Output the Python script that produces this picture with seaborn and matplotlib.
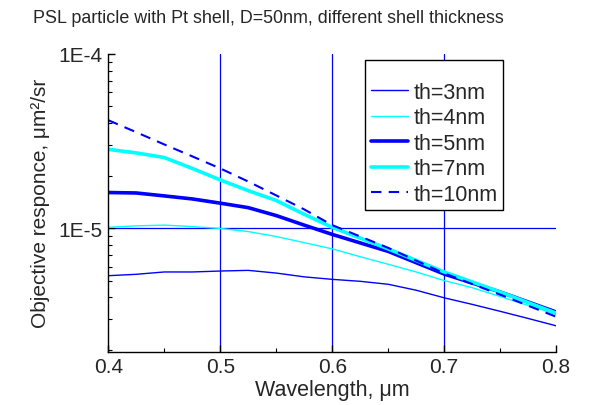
"""PSL particle with Pt shell - objective response vs wavelength."""
import matplotlib
matplotlib.use("Agg")
import matplotlib.pyplot as plt
import matplotlib.ticker as mticker
import pandas as pd
import seaborn as sns

# -- Data ----------------------------------------------------------------------
wl_fine = [0.400, 0.425, 0.450, 0.475, 0.500, 0.525, 0.550, 0.575, 0.600,
           0.625, 0.650, 0.675, 0.700, 0.725, 0.750, 0.775, 0.800]
th3 = [5.33, 5.43, 5.60, 5.60, 5.67, 5.72, 5.52, 5.25, 5.08,
       4.95, 4.76, 4.40, 3.98, 3.65, 3.33, 3.03, 2.75]
th4 = [10.1, 10.3, 10.4, 10.2, 9.95, 9.55, 8.95, 8.25, 7.6,
       6.85, 6.2, 5.6, 5.0, 4.55, 4.05, 3.6, 3.2]

wl = [0.400, 0.425, 0.450, 0.475, 0.500, 0.525, 0.550, 0.575, 0.600,
      0.650, 0.700, 0.750, 0.800]
th5 = [16.0, 15.9, 15.3, 14.7, 13.9, 13.1, 11.8, 10.4, 9.2,
       7.35, 5.45, 4.3, 3.3]
th7 = [28.3, 27.0, 25.4, 22.0, 18.9, 16.4, 14.4, 12.0, 10.1,
       7.6, 5.6, 4.3, 3.25]
th10 = [41.6, 35.5, 30.2, 25.8, 22.0, 18.5, 15.4, 12.8, 10.4,
        7.7, 5.5, 4.15, 3.1]

labels = ["th=3nm", "th=4nm", "th=5nm", "th=7nm", "th=10nm"]
x_ticks = [0.4, 0.5, 0.6, 0.7, 0.8]

# -- Styling -------------------------------------------------------------------
sns.set_theme(style="ticks")
plt.rcParams["font.family"] = ["Liberation Sans", "DejaVu Sans"]

styles = [
    dict(color="#0000ff", linewidth=1.0, linestyle="-"),
    dict(color="#00ffff", linewidth=1.0, linestyle="-"),
    dict(color="#0000ff", linewidth=2.6, linestyle="-"),
    dict(color="#00ffff", linewidth=2.6, linestyle="-"),
    dict(color="#0000ff", linewidth=1.5, linestyle=(0, (5, 3.5))),
]


def to_frame(x, vals):
    return pd.DataFrame({"wl": x, "resp": [v * 1e-6 for v in vals]})


series = [to_frame(wl_fine, th3), to_frame(wl_fine, th4),
          to_frame(wl, th5), to_frame(wl, th7), to_frame(wl, th10)]

fig = plt.figure(figsize=(5.98, 4.06), dpi=100)
ax = fig.add_axes([0.181, 0.131, 0.749, 0.734])

for df, lab, st in zip(series, labels, styles):
    sns.lineplot(data=df, x="wl", y="resp", label=lab, ax=ax, **st)

ax.set_yscale("log")
ax.set_xlim(0.4, 0.8)
ax.set_ylim(1.95e-6, 1e-4)
ax.set_xticks(x_ticks)
ax.set_xticklabels([f"{t:.1f}" for t in x_ticks])
ax.xaxis.set_minor_locator(mticker.MultipleLocator(0.05))
ax.set_yticks([1e-5, 1e-4])
ax.set_yticklabels(["1E-5", "1E-4"])
ax.yaxis.set_minor_locator(mticker.LogLocator(base=10, subs=range(2, 10)))
ax.yaxis.set_minor_formatter(mticker.NullFormatter())

ax.tick_params(which="major", direction="in", length=5, width=1,
               labelsize=15, color="black", pad=4)
ax.tick_params(which="minor", direction="in", length=3, width=0.8, color="black")

ax.grid(True, which="major", color="#0000ff", linewidth=0.9, linestyle="-")
ax.set_axisbelow(True)
# no grid on the edges (the reference has no box there)
xt = ax.xaxis.get_major_ticks()
xt[0].gridline.set_visible(False)
xt[-1].gridline.set_visible(False)
ax.yaxis.get_major_ticks()[-1].gridline.set_visible(False)

sns.despine(ax=ax, top=True, right=True)
for side in ("left", "bottom"):
    ax.spines[side].set_color("black")
    ax.spines[side].set_linewidth(1.0)

ax.set_xlabel("Wavelength, μm", fontsize=15.5, labelpad=2)
ax.set_ylabel("Objective responce, μm²/sr", fontsize=15, labelpad=6)
fig.suptitle("PSL particle with Pt shell, D=50nm, different shell thickness",
             fontsize=12.9, x=0.448, y=0.975)

leg = ax.legend(loc="upper left", bbox_to_anchor=(0.574, 0.98), fontsize=15.5,
                title=" ", title_fontsize=9.5, frameon=True, fancybox=False,
                handlelength=1.72, handletextpad=0.25, labelspacing=0.21,
                borderpad=0.25, borderaxespad=0.0)
leg.get_frame().set_edgecolor("black")
leg.get_frame().set_linewidth(1.0)
leg.get_frame().set_alpha(1.0)
leg.set_zorder(10)

fig.savefig("out.png", dpi=100)
